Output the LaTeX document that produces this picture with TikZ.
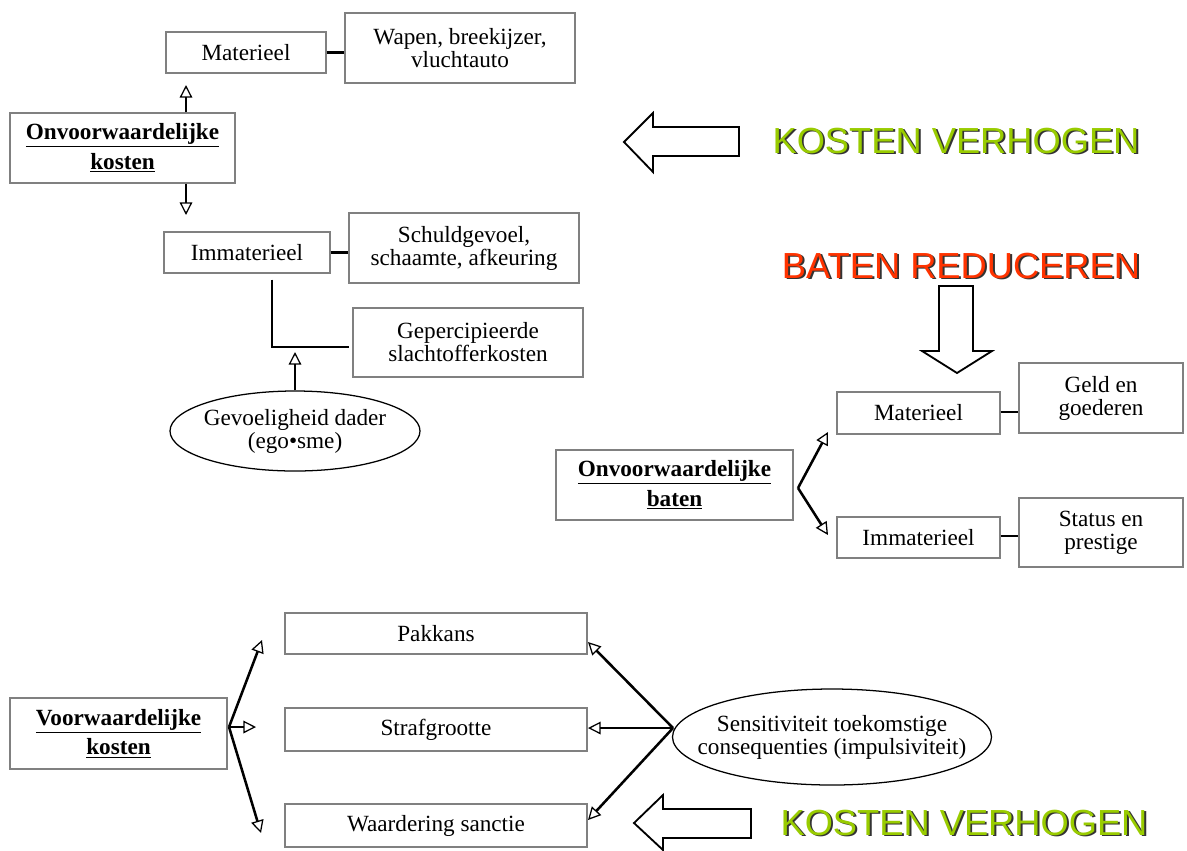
\documentclass[tikz,border=0pt]{standalone}
\usepackage{fontspec}
\setmainfont{Liberation Serif}
\newfontfamily\kopfont{Liberation Sans}
\usetikzlibrary{arrows.meta,shapes.geometric}

\definecolor{groen}{RGB}{153,204,0}
\definecolor{rood}{RGB}{255,51,0}
\newcommand{\schaduwtekst}[2]{\rlap{\raisebox{-1.4pt}{\hspace{1.4pt}\textcolor{black!80}{#2}}}\textcolor{#1}{#2}}

\begin{document}
\begin{tikzpicture}[x=0.025cm, y=-0.025cm,
    vak/.style={rectangle, draw=black!50, line width=0.9pt, fill=white, align=center, inner sep=0pt,
      font=\fontsize{16.5}{16.4}\selectfont},
    ovaal/.style={ellipse, draw, line width=0.9pt, align=center, inner xsep=-80pt, inner ysep=-20pt,
      font=\fontsize{16.5}{16.4}\selectfont},
    lijn/.style={line width=1.8pt},
    pijl/.style={line width=1.8pt, -{Triangle[open, length=9pt, width=9pt, line width=0.9pt]}},
    blokpijl/.style={draw, line width=1.3pt, fill=white, line join=miter},
    kop/.style={inner sep=0pt, font=\kopfont\fontsize{25.8}{30}\selectfont}]

\useasboundingbox (0,0) rectangle (1187,850);

% onvoorwaardelijke kosten
\node[vak, minimum width=225*0.025cm, minimum height=70*0.025cm] (onvK) at (122.5,148) {\textbf{\underline{Onvoorwaardelijke}}\\[3pt]\textbf{\underline{kosten}}};
\node[vak, minimum width=160*0.025cm, minimum height=41*0.025cm] (matK) at (246,52.5) {Materieel};
\node[vak, minimum width=230*0.025cm, minimum height=70*0.025cm] (wapen) at (460,48) {Wapen, breekijzer,\\vluchtauto};
\node[vak, minimum width=166*0.025cm, minimum height=41*0.025cm] (immK) at (247,252.5) {Immaterieel};
\node[vak, minimum width=230*0.025cm, minimum height=70*0.025cm] (schuld) at (464,248) {Schuldgevoel,\\schaamte, afkeuring};
\node[vak, minimum width=230*0.025cm, minimum height=69*0.025cm] (geperc) at (468,342.5) {Gepercipieerde\\slachtofferkosten};
\node[ovaal, minimum width=250*0.025cm, minimum height=80*0.025cm] (dader) at (295,431) {Gevoeligheid dader\\(ego•sme)};

\coordinate (pK1) at (186,85);
\coordinate (pK2) at (186,215);
\coordinate (hoek) at (272,347);
\coordinate (pD) at (295,352);

\draw[pijl] (onvK.north -| pK1) -- (pK1);
\draw[pijl] (onvK.south -| pK2) -- (pK2);
\draw[lijn] (matK.east) -- (matK.east -| wapen.west);
\draw[lijn] (immK.east) -- (immK.east -| schuld.west);
\draw[lijn] ([yshift=-6*0.025cm]immK.south -| hoek) -- (hoek) -- ([xshift=-3*0.025cm]geperc.west |- hoek);
\draw[pijl] (dader.north) -- (pD);

% kosten verhogen (boven)
\draw[blokpijl] (624,142) -- (653,113) -- (653,127) -- (739,127) -- (739,156) -- (653,156) -- (653,172) -- cycle;
\node[kop, anchor=base] (kosten1) at (956,153) {\schaduwtekst{groen}{KOSTEN VERHOGEN}};

% baten reduceren
\node[kop, anchor=base] (baten) at (961,278) {\schaduwtekst{rood}{BATEN REDUCEREN}};
\draw[blokpijl] (957,373) -- (922,351) -- (939,351) -- (939,286) -- (973,286) -- (973,351) -- (992,351) -- cycle;

% onvoorwaardelijke baten
\node[vak, minimum width=237*0.025cm, minimum height=70*0.025cm] (onvB) at (674.5,485) {\textbf{\underline{Onvoorwaardelijke}}\\[3pt]\textbf{\underline{baten}}};
\node[vak, minimum width=163*0.025cm, minimum height=42*0.025cm] (matB) at (918.5,413) {Materieel};
\node[vak, minimum width=164*0.025cm, minimum height=70*0.025cm] (geld) at (1101,398) {Geld en\\goederen};
\node[vak, minimum width=163*0.025cm, minimum height=41*0.025cm] (immB) at (918.5,537.5) {Immaterieel};
\node[vak, minimum width=164*0.025cm, minimum height=69*0.025cm] (status) at (1101,532.5) {Status en\\prestige};

\coordinate (vorkB) at (798,488);
\coordinate (pB1) at (828,432);
\coordinate (pB2) at (828,535);

\draw[pijl] (vorkB) -- (pB1);
\draw[pijl] (vorkB) -- (pB2);
\draw[lijn] (matB.east |- 0,412) -- (geld.west |- 0,412);
\draw[lijn] (immB.east |- 0,536) -- (status.west |- 0,536);

% voorwaardelijke kosten
\node[vak, minimum width=217*0.025cm, minimum height=71*0.025cm] (vwK) at (118.5,733.5) {\textbf{\underline{Voorwaardelijke}}\\[3pt]\textbf{\underline{kosten}}};
\node[vak, minimum width=302*0.025cm, minimum height=41*0.025cm] (pak) at (436,633.5) {Pakkans};
\node[vak, minimum width=302*0.025cm, minimum height=43*0.025cm] (straf) at (436,729.5) {Strafgrootte};
\node[vak, minimum width=302*0.025cm, minimum height=43*0.025cm] (waard) at (436,825.5) {Waardering sanctie};
\node[ovaal, minimum width=319*0.025cm, minimum height=96*0.025cm] (sens) at (832,737) {Sensitiviteit toekomstige\\consequenties (impulsiviteit)};

\coordinate (vorkV) at (229,727);
\coordinate (pV1) at (262,640);
\coordinate (pV2) at (256,727);
\coordinate (pV3) at (261,833);
\coordinate (vorkS) at (673,728);
\coordinate (pS1) at (588,642);
\coordinate (pS2) at (588,728);
\coordinate (pS3) at (588,820);

\draw[pijl] (vorkV) -- (pV1);
\draw[pijl] (vorkV) -- (pV2);
\draw[pijl] (vorkV) -- (pV3);
\draw[pijl] (vorkS) -- (pS1);
\draw[pijl] (vorkS) -- (pS2);
\draw[pijl] (vorkS) -- (pS3);

% kosten verhogen (onder)
\draw[blokpijl] (634,823) -- (663,795) -- (663,809) -- (751,809) -- (751,838) -- (663,838) -- (663,850) -- cycle;
\node[kop, anchor=base] (kosten2) at (964,835) {\schaduwtekst{groen}{KOSTEN VERHOGEN}};

\end{tikzpicture}
\end{document}
